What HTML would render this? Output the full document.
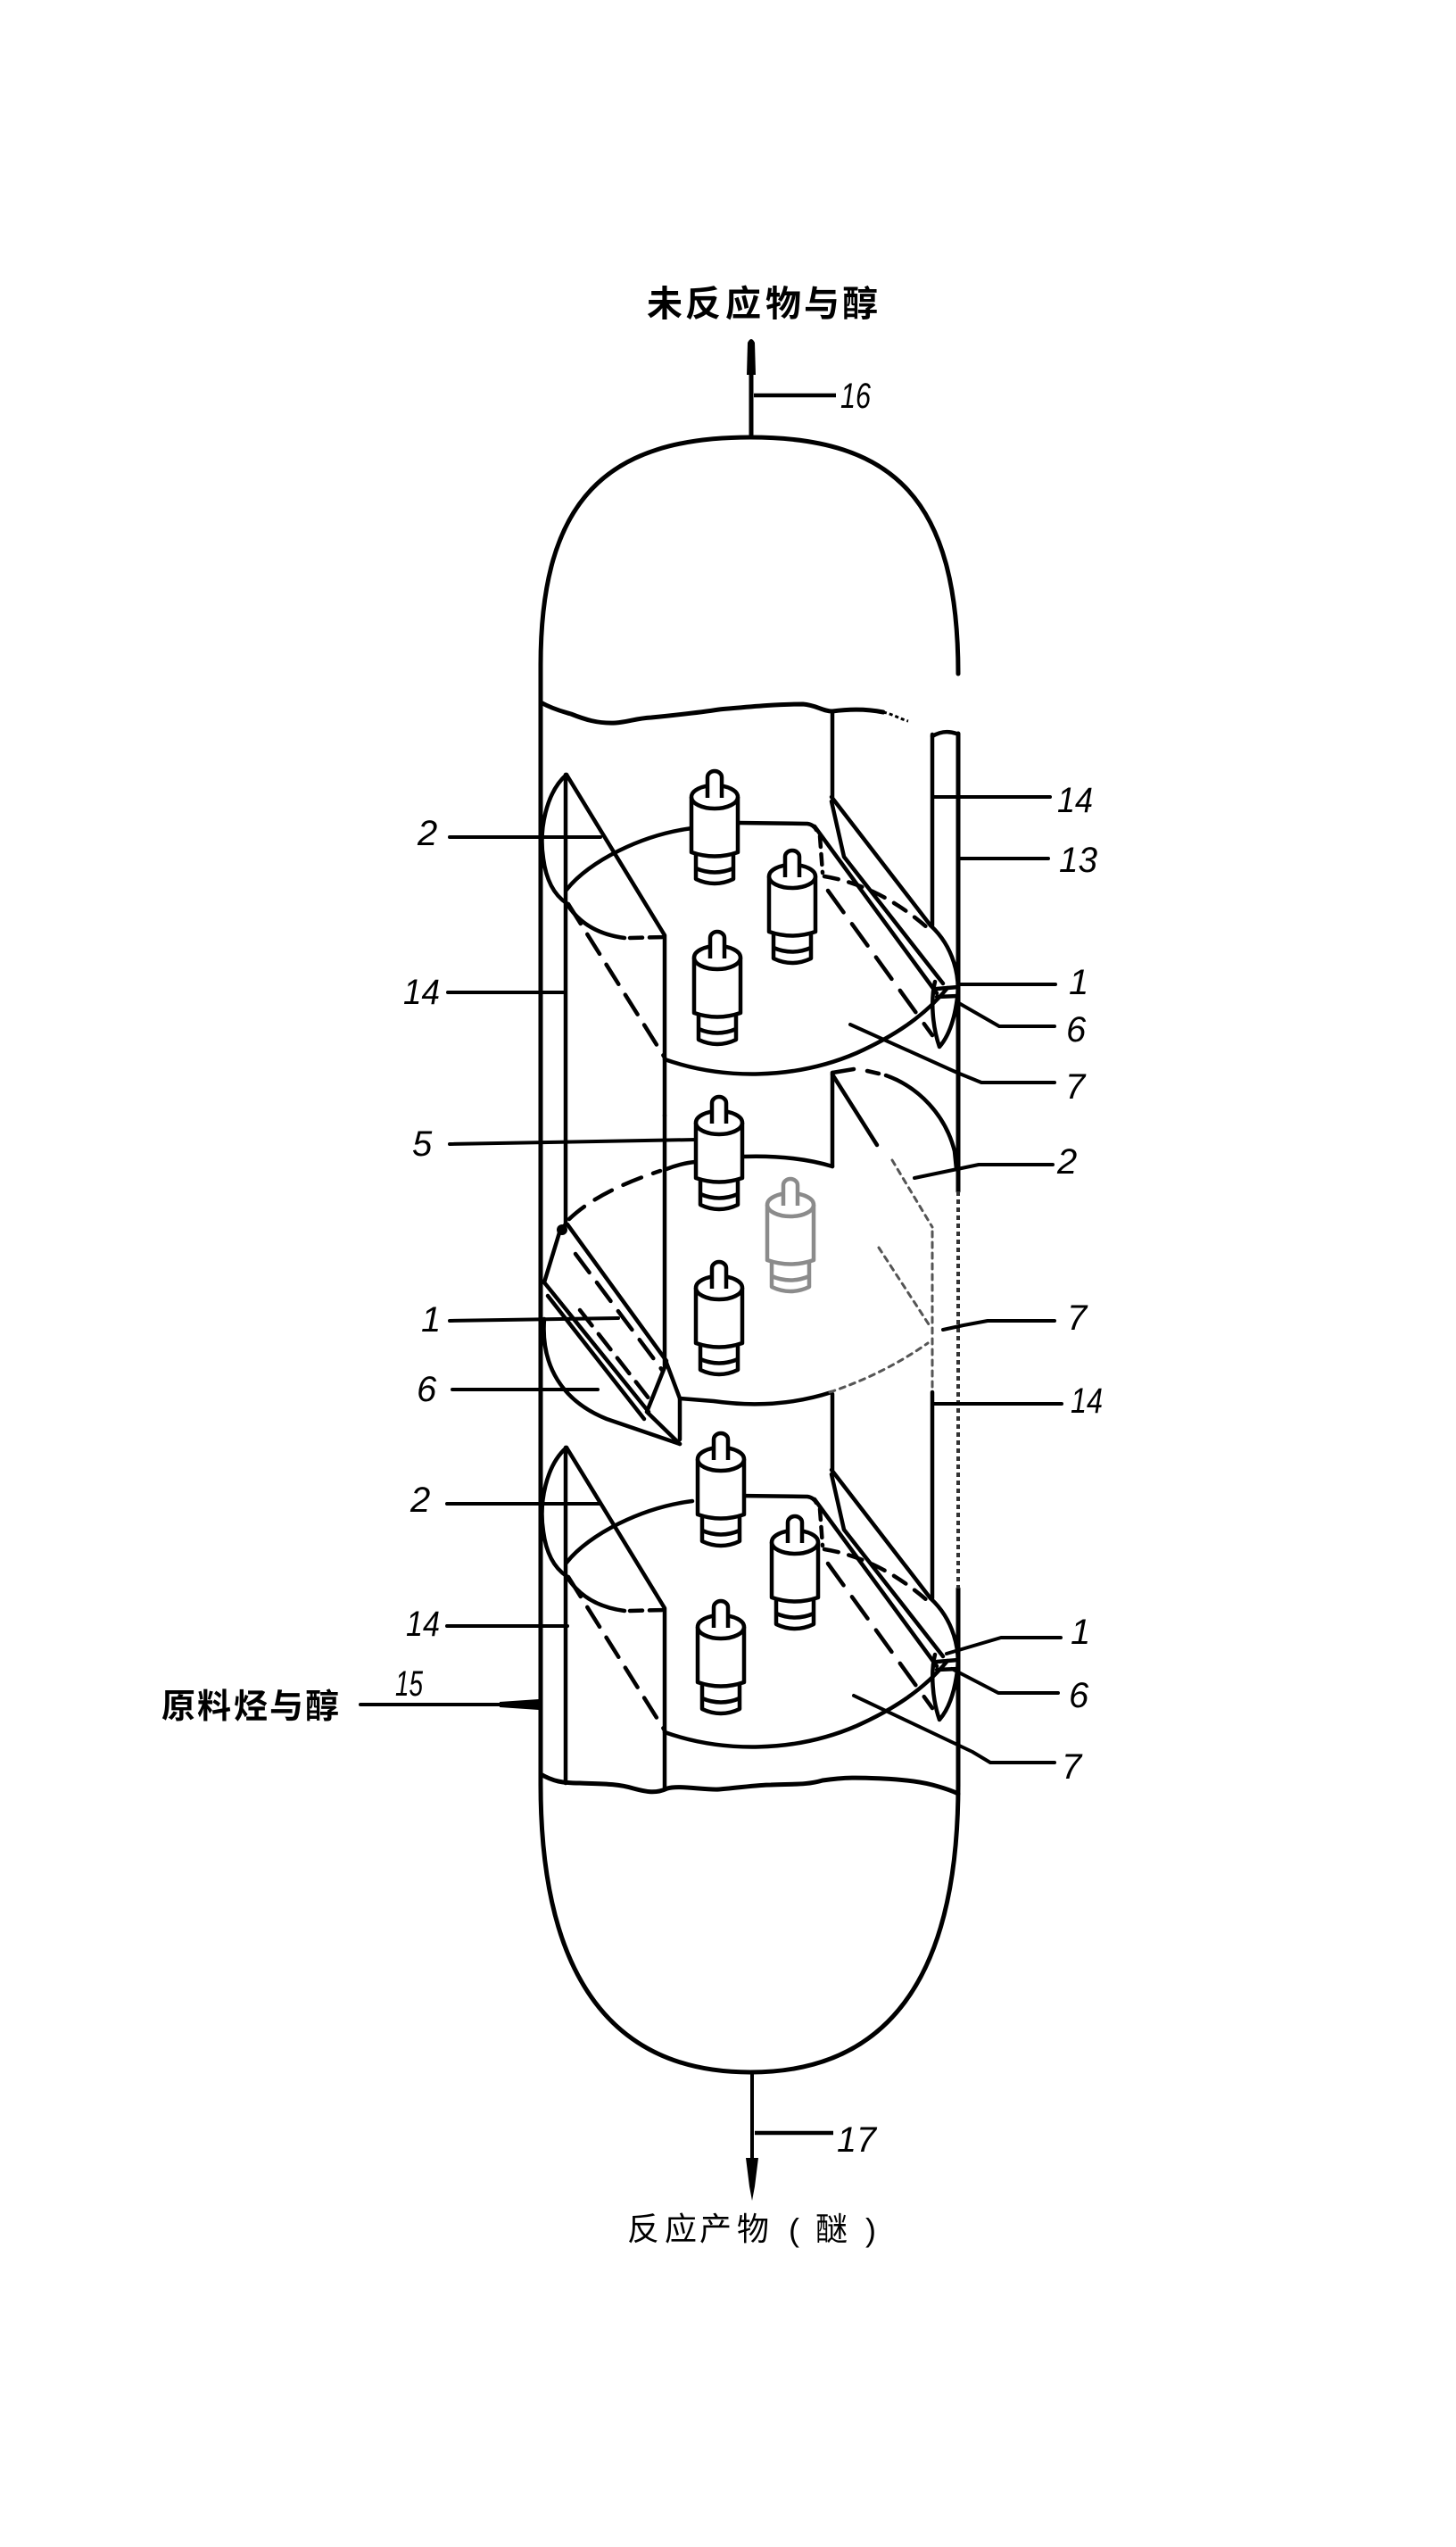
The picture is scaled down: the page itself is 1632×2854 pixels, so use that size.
<!DOCTYPE html>
<html><head><meta charset="utf-8"><style>
html,body{margin:0;padding:0;background:#fff;}
svg{display:block;}
.n{font-family:"Liberation Sans",sans-serif;font-style:italic;font-size:40px;fill:#000;}
.c{font-family:"Liberation Sans","Noto Sans CJK SC",sans-serif;fill:#000;}
</style></head><body>
<svg width="1632" height="2854" viewBox="0 0 1632 2854" xmlns="http://www.w3.org/2000/svg">
<rect width="1632" height="2854" fill="#fff"/>
<defs>
<g id="cyl" fill="#fff" stroke="#000" stroke-width="4.5" stroke-linejoin="round">
  <path d="M-21,92 V122 Q0,132 21,122 V92"/>
  <path d="M-21,110 Q0,119 21,110" fill="none"/>
  <path d="M-26,30 V92 Q0,101 26,92 V30"/>
  <ellipse cx="0" cy="30" rx="26" ry="13"/>
  <path d="M-8,31 V8 A8,7 0 0 1 8,8 V31"/>
</g>
<g id="tray" fill="none" stroke="#000" stroke-width="4.5" stroke-linecap="round" stroke-linejoin="round">
  <path d="M635,868 C612,888 604,930 609,962 C612,985 620,1002 635,1012"/>
  <path d="M635,868 L745,1048 L745,1250"/>
  <path d="M637,1013 L745,1185" stroke-dasharray="26 14"/>
  <path d="M635,997 C660,965 720,935 776,928"/>
  <path d="M827,922 L905,923 Q912,924 915,930"/>
  <path d="M635,1012 Q655,1045 700,1051"/>
  <path d="M706,1051 L745,1050" stroke-dasharray="14 8"/>
  <path d="M745,1187 C810,1210 890,1210 960,1180 C1000,1162 1035,1140 1062,1107"/>
  <path d="M913,926 L1050,1113"/>
  <path d="M932,893 L1043,1037"/>
  <path d="M932,898 L946,960 L1057,1102"/>
  <path d="M919,937 L922,978" stroke-dasharray="12 8"/>
  <path d="M924,982 Q985,992 1040,1040" stroke-dasharray="16 12"/>
  <path d="M928,998 L1045,1160" stroke-dasharray="30 16"/>
  <path d="M1043,1037 C1068,1060 1078,1095 1072,1125 C1068,1150 1060,1165 1053,1173 C1045,1150 1043,1120 1048,1100"/>
  <path d="M1050,1108 L1074,1106 M1050,1117 L1074,1116"/>
</g>
</defs>

<g fill="none" stroke="#000" stroke-width="5" stroke-linecap="round" stroke-linejoin="round">
  <!-- top dome -->
  <path d="M606,745 C606,560 680,490 841,490 C1002,490 1074,560 1074,755"/>
  <!-- left wall -->
  <path d="M606,745 V2000"/>
  <!-- bottom dome -->
  <path d="M606,2000 C606,2220 690,2322 841,2322 C992,2322 1074,2220 1074,2000"/>
  <!-- right wall -->
  <path d="M1074,822 V1335"/>
  <path d="M1074,1780 V2000"/>
</g>
<path d="M1074,1335 V1780" stroke="#333" stroke-width="4" stroke-dasharray="5 4" fill="none"/>

<!-- top pipe 16 -->
<path d="M842,383 V490" stroke="#000" stroke-width="5"/>
<path d="M838,384 Q842,376 846,384 L847,420 L837,420 Z" fill="#000"/>
<path d="M845,443 H937" stroke="#000" stroke-width="4.5"/>
<text class="n" x="942" y="457" textLength="34" lengthAdjust="spacingAndGlyphs">16</text>

<!-- title -->
<g class="c" font-size="40" font-weight="700">
<text x="725" y="354">未</text><text x="768" y="354">反</text><text x="813" y="354">应</text><text x="858" y="354">物</text><text x="901" y="354">与</text><text x="944" y="354">醇</text>
</g>

<!-- bottom pipe 17 -->
<path d="M843,2322 V2425" stroke="#000" stroke-width="4"/>
<path d="M836,2418 L850,2418 L846,2450 L843,2466 L840,2450 Z" fill="#000"/>
<path d="M846,2390 H934" stroke="#000" stroke-width="4.5"/>
<text class="n" x="938" y="2411" textLength="44" lengthAdjust="spacingAndGlyphs">17</text>

<g class="c" font-size="36">
<text x="703" y="2510">反</text><text x="745" y="2510">应</text><text x="784" y="2510">产</text><text x="826" y="2510">物</text>
<text x="884" y="2511" font-family="Liberation Sans">(</text><text x="914" y="2510">醚</text><text x="970" y="2511" font-family="Liberation Sans">)</text>
</g>

<!-- wavy lines -->
<g fill="none" stroke="#000" stroke-width="5" stroke-linecap="round">
<path d="M606,787 C615,792 625,796 640,800 C655,806 670,811 690,810 C705,809 712,805 730,804 C750,802 780,799 806,795 C840,792 870,789 900,789 C915,790 922,797 933,797 C955,794 975,795 990,798"/>
<path d="M606,1988 C620,1996 630,1998 650,1998 C670,1999 690,1998 710,2004 C725,2008 735,2010 748,2004 C760,2000 790,2006 806,2005 C830,2003 850,2000 864,2000 C890,1999 905,2000 922,1995 C950,1991 965,1992 990,1993 C1010,1994 1030,1996 1045,2000 C1060,2004 1068,2007 1074,2010"/>
</g>
<path d="M990,798 C1000,800 1010,806 1018,808" fill="none" stroke="#000" stroke-width="3" stroke-dasharray="4 3"/>

<!-- tray A and C -->
<use href="#tray"/>
<use href="#tray" transform="translate(0,754)"/>

<g fill="none" stroke="#000" stroke-width="4.5" stroke-linecap="round" stroke-linejoin="round">
  <!-- tray A specific -->
  <path d="M933,797 V893"/>
  <path d="M1045,823 V1037"/>
  <path d="M1045,825 Q1058,817 1072,822"/>
  <path d="M634,868 V1372"/>
  <path d="M745,1250 V1530"/>
  <!-- tray C specific -->
  <path d="M933,1562 V1647"/>
  <path d="M1045,1560 V1791"/>
  <path d="M634,1622 V1998"/>
  <!-- tray B left baffle -->
  <path d="M634,1372 L628,1378 L610,1437"/>
  <path d="M636,1372 L747,1525"/>
  <path d="M610,1437 L727,1582"/>
  <path d="M614,1452 L722,1590"/>
  <path d="M747,1527 L762,1567 L762,1613"/>
  <path d="M747,1527 L725,1582 L762,1618"/>
  <path d="M610,1478 C606,1530 630,1570 680,1590 L762,1618"/>
  <path d="M645,1405 L742,1535" stroke-dasharray="26 14"/>
  <path d="M650,1468 L728,1568" stroke-dasharray="22 12"/>
  <!-- tray B arcs -->
  <path d="M638,1366 Q670,1335 740,1312" stroke-dasharray="22 14"/>
  <path d="M747,1310 Q765,1303 780,1302"/>
  <path d="M832,1296 Q890,1294 933,1307"/>
  <path d="M762,1567 L800,1570 Q870,1580 932,1560"/>
  <!-- tray B right segment -->
  <path d="M933,1202 V1307"/>
  <path d="M933,1202 L957,1198"/>
  <path d="M972,1200 L985,1203"/>
  <path d="M993,1205 C1030,1218 1060,1250 1070,1290 L1072,1310"/>
  <path d="M933,1204 L983,1283"/>
</g>
<circle cx="630" cy="1378" r="6" fill="#000"/>
<g fill="none" stroke="#555" stroke-width="3" stroke-linecap="round" stroke-dasharray="6 6">
  <path d="M985,1398 L1043,1487"/>
  <path d="M930,1560 Q990,1540 1040,1505"/>
  <path d="M1045,1380 V1560"/>
  <path d="M1000,1300 L1045,1375"/>
</g>

<!-- cylinders -->
<use href="#cyl" transform="translate(801,863)"/>
<use href="#cyl" transform="translate(888,952)"/>
<use href="#cyl" transform="translate(804,1043)"/>
<use href="#cyl" transform="translate(806,1228)"/>
<g opacity="0.45"><use href="#cyl" transform="translate(886,1320)"/></g>
<use href="#cyl" transform="translate(806,1413)"/>
<use href="#cyl" transform="translate(808,1605)"/>
<use href="#cyl" transform="translate(891,1698)"/>
<use href="#cyl" transform="translate(808,1793)"/>

<!-- leader lines -->
<g fill="none" stroke="#000" stroke-width="4" stroke-linecap="round" stroke-linejoin="round">
  <!-- right -->
  <path d="M1047,893 H1177"/>
  <path d="M1075,962 H1175"/>
  <path d="M1074,1103 H1183"/>
  <path d="M1073,1123 L1120,1150 H1182"/>
  <path d="M953,1148 L1073,1202 L1100,1213 H1182"/>
  <path d="M1025,1320 L1073,1310 L1097,1305 H1180"/>
  <path d="M1057,1490 L1080,1485 L1107,1480 H1182"/>
  <path d="M1045,1573 H1190"/>
  <path d="M1061,1853 L1122,1835 H1189"/>
  <path d="M1067,1870 L1119,1897 H1186"/>
  <path d="M957,1900 L1090,1963 L1110,1975 H1182"/>
  <!-- left -->
  <path d="M504,938 H673"/>
  <path d="M502,1112 H634"/>
  <path d="M504,1282 L780,1277"/>
  <path d="M504,1480 L693,1477"/>
  <path d="M507,1557 H670"/>
  <path d="M501,1685 H673"/>
  <path d="M501,1822 H636"/>
  <path d="M404,1910 H606"/>
</g>
<path d="M560,1907 L604,1904 L604,1916 L560,1913 Z" fill="#000"/>

<!-- number labels -->
<text class="n" x="1185" y="910" textLength="40" lengthAdjust="spacingAndGlyphs">14</text>
<text class="n" x="1187" y="977" textLength="43" lengthAdjust="spacingAndGlyphs">13</text>
<text class="n" x="1198" y="1114">1</text>
<text class="n" x="1195" y="1167">6</text>
<text class="n" x="1194" y="1231">7</text>
<text class="n" x="1185" y="1315">2</text>
<text class="n" x="1196" y="1490">7</text>
<text class="n" x="1200" y="1583" textLength="36" lengthAdjust="spacingAndGlyphs">14</text>
<text class="n" x="1200" y="1842">1</text>
<text class="n" x="1198" y="1913">6</text>
<text class="n" x="1190" y="1993">7</text>

<text class="n" x="468" y="947">2</text>
<text class="n" x="452" y="1125" textLength="41" lengthAdjust="spacingAndGlyphs">14</text>
<text class="n" x="462" y="1295">5</text>
<text class="n" x="472" y="1492">1</text>
<text class="n" x="467" y="1570">6</text>
<text class="n" x="460" y="1694">2</text>
<text class="n" x="455" y="1833" textLength="38" lengthAdjust="spacingAndGlyphs">14</text>
<text class="n" x="443" y="1900" font-size="32" textLength="31" lengthAdjust="spacingAndGlyphs">15</text>

<g class="c" font-size="38" font-weight="700">
<text x="181" y="1925">原</text><text x="221" y="1925">料</text><text x="262" y="1925">烃</text><text x="302" y="1925">与</text><text x="342" y="1925">醇</text>
</g>
</svg>
</body></html>
